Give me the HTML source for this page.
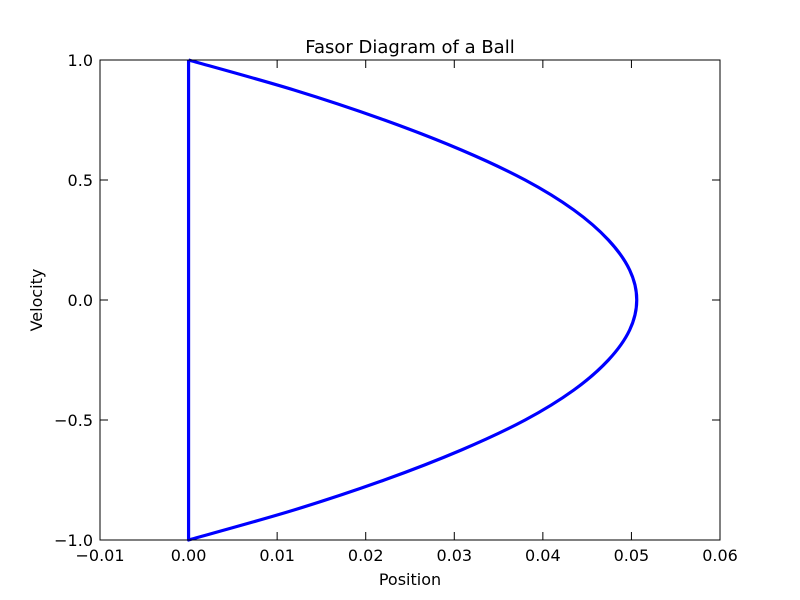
<!DOCTYPE html>
<html><head><meta charset="utf-8"><style>
body{margin:0;background:#fff;}
svg{display:block;font-family:"DejaVu Sans","Liberation Sans",sans-serif;}
</style></head><body>
<svg id="chart" width="800" height="600">
<rect width="800" height="600" fill="#fff"/>
<text x="410" y="53" font-size="18" text-anchor="middle">Fasor Diagram of a Ball</text>
<text x="410" y="585" font-size="16" text-anchor="middle">Position</text>
<text x="42" y="300" font-size="16" text-anchor="middle" transform="rotate(-90 42 300)">Velocity</text>
<g id="ticks"></g>
<g id="series"></g>
<rect x="100" y="60" width="620" height="480" fill="none" stroke="#000" stroke-width="1"/>
</svg>
<script>
const xTicks=[-0.01,0,0.01,0.02,0.03,0.04,0.05,0.06];
const xTickLabels=["\u22120.01","0.00","0.01","0.02","0.03","0.04","0.05","0.06"];
const yTicks=[-1,-0.5,0,0.5,1];
const yTickLabels=["\u22121.0","\u22120.5","0.0","0.5","1.0"];
const velocity=[1,0.875,0.75,0.625,0.5,0.375,0.25,0.125,0,-0.125,-0.25,-0.375,-0.5,-0.625,-0.75,-0.875,-1,1];
const position=[0,0.0119,0.0221,0.0308,0.038,0.0435,0.0474,0.0498,0.0506,0.0498,0.0474,0.0435,0.038,0.0308,0.0221,0.0119,0,0];
const X0=100,X1=720,Y0=540,Y1=60,xmin=-0.01,xmax=0.06,ymin=-1,ymax=1;
const sx=v=>X0+(v-xmin)/(xmax-xmin)*(X1-X0);
const sy=v=>Y0-(v-ymin)/(ymax-ymin)*(Y0-Y1);
const NS="http://www.w3.org/2000/svg";
const tg=document.getElementById('ticks');
function mk(t,a){const e=document.createElementNS(NS,t);for(const k in a)e.setAttribute(k,a[k]);return e;}
xTicks.forEach((v,i)=>{const x=sx(v);
 const t1=mk('line',{x1:x,x2:x,y1:540,y2:532,stroke:'#000'});
 
 
 tg.appendChild(t1);
 const t2=mk('line',{x1:x,x2:x,y1:60,y2:68,stroke:'#000'});
 
 
 tg.appendChild(t2);
 const l=mk('text',{x:x,y:561,'font-size':16,'text-anchor':'middle'});l.textContent=xTickLabels[i];
 
 
 tg.appendChild(l);});
yTicks.forEach((v,i)=>{const y=sy(v);
 const t1=mk('line',{x1:100,x2:108,y1:y,y2:y,stroke:'#000'});
 
 
 tg.appendChild(t1);
 const t2=mk('line',{x1:712,x2:720,y1:y,y2:y,stroke:'#000'});
 
 
 tg.appendChild(t2);
 const l=mk('text',{x:93,y:y+6,'font-size':16,'text-anchor':'end'});l.textContent=yTickLabels[i];
 
 
 tg.appendChild(l);});
const pts=velocity.map((v,i)=>[sx(position[i]),sy(v)]);
let d='M'+pts[0][0]+','+pts[0][1];
for(let i=0;i<pts.length-2;i++){
 const p0=pts[Math.max(i-1,0)],p1=pts[i],p2=pts[i+1],p3=pts[Math.min(i+2,pts.length-2)];
 const c1=[p1[0]+(p2[0]-p0[0])/6,p1[1]+(p2[1]-p0[1])/6],c2=[p2[0]-(p3[0]-p1[0])/6,p2[1]-(p3[1]-p1[1])/6];
 d+=` C${c1[0]},${c1[1]} ${c2[0]},${c2[1]} ${p2[0]},${p2[1]}`;
}
d+=' L'+pts[pts.length-1][0]+','+pts[pts.length-1][1];
const path=mk('path',{d:d,fill:'none',stroke:'#0000ff','stroke-width':3.2,'stroke-linejoin':'round'});


document.getElementById('series').appendChild(path);
</script>
</body></html>
